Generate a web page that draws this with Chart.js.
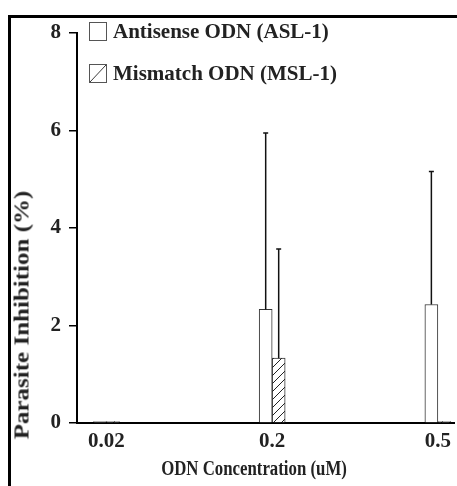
<!DOCTYPE html>
<html>
<head>
<meta charset="utf-8">
<script src="https://cdn.jsdelivr.net/npm/chart.js@4.4.1/dist/chart.umd.min.js"></script>
<style>
  html, body { margin:0; padding:0; background:#fff; overflow:hidden; }
  #wrap { position:relative; width:457px; height:486px; overflow:hidden;
          font-family:'Liberation Serif','Times New Roman',serif; font-weight:bold; color:#222; }
  #frame { position:absolute; left:8px; top:15px; width:500px; height:520px;
           border-left:3px solid #000; border-top:3px solid #000; }
  canvas { position:absolute; left:0; top:0; }
  .leg { position:absolute; left:89px; font-size:21px; line-height:20px; display:flex; align-items:center; white-space:nowrap; }
  .sw { width:16px; height:17px; border:1px solid #555; margin-right:6px; background:#fff; box-sizing:content-box; }
  .sw.hatch { background:linear-gradient(to bottom right, transparent calc(50% - 0.7px), #333 50%, transparent calc(50% + 0.7px)); }
  #ytitle { position:absolute; left:22px; top:315px; font-size:20px; white-space:nowrap;
            transform:translate(-50%,-50%) rotate(-90deg) scaleX(1.25); }
  #xtitle { position:absolute; left:254px; top:468px; font-size:20px; white-space:nowrap;
            transform:translate(-50%,-50%) scaleX(0.84); }
</style>
</head>
<body>
<div id="wrap">
  <div id="frame"></div>
  <canvas id="c" width="457" height="486"></canvas>
  <div class="leg" style="top:21px"><div class="sw"></div>Antisense ODN (ASL-1)</div>
  <div class="leg" style="top:63px"><div class="sw hatch"></div>Mismatch ODN (MSL-1)</div>
  <div id="ytitle">Parasite Inhibition (%)</div>
  <div id="xtitle">ODN Concentration (uM)</div>
</div>
<script>
// values
const categories = ['0.02', '0.2', '0.5'];
const antisense = [0.03, 2.33, 2.43];
const antisenseErr = [0, 3.62, 2.73];
const mismatch = [0.03, 1.33, 0.03];
const mismatchErr = [0, 2.24, 0];
const yTicks = [0, 2, 4, 6, 8];

const tickFont = { family: "'Liberation Serif','Times New Roman',serif", size: 21, weight: 'bold' };

function hatchPattern() {
  const c = document.createElement('canvas');
  c.width = 8; c.height = 8;
  const g = c.getContext('2d');
  g.fillStyle = '#fff'; g.fillRect(0, 0, 8, 8);
  g.strokeStyle = '#222'; g.lineWidth = 1;
  g.beginPath();
  g.moveTo(0, 8); g.lineTo(8, 0);
  g.moveTo(-2, 2); g.lineTo(2, -2);
  g.moveTo(6, 10); g.lineTo(10, 6);
  g.stroke();
  return g.createPattern(c, 'repeat');
}

// upper error bars only, with a small cap
const errorBars = {
  id: 'errorBars',
  afterDatasetsDraw(chart) {
    const { ctx, scales: { y } } = chart;
    chart.data.datasets.forEach((ds, i) => {
      chart.getDatasetMeta(i).data.forEach((bar, j) => {
        const e = ds.errors[j];
        if (!e) return;
        const top = y.getPixelForValue(ds.data[j].y + e);
        ctx.save();
        ctx.strokeStyle = '#111';
        ctx.lineWidth = 1.5;
        ctx.beginPath();
        ctx.moveTo(bar.x, bar.y); ctx.lineTo(bar.x, top);
        ctx.moveTo(bar.x - 2.5, top); ctx.lineTo(bar.x + 2.5, top);
        ctx.stroke();
        ctx.restore();
      });
    });
  }
};

new Chart(document.getElementById('c'), {
  type: 'bar',
  data: {
    datasets: [
      { label: 'Antisense ODN (ASL-1)', data: antisense.map((v, i) => ({ x: i, y: v })), errors: antisenseErr,
        backgroundColor: '#fff', borderColor: '#333', borderWidth: 1, barThickness: 13 },
      { label: 'Mismatch ODN (MSL-1)', data: mismatch.map((v, i) => ({ x: i, y: v })), errors: mismatchErr,
        backgroundColor: hatchPattern(), borderColor: '#333', borderWidth: 1, barThickness: 13 }
    ]
  },
  options: {
    responsive: false,
    animation: false,
    layout: { padding: { left: 0, top: 33, right: 0, bottom: 0 } },
    plugins: { legend: { display: false }, tooltip: { enabled: false } },
    scales: {
      x: {
        type: 'linear', offset: false, min: -0.178, max: 2.1,
        afterBuildTicks: s => { s.ticks = categories.map((c, i) => ({ value: i })); },
        afterFit: s => { s.height = 63; },
        ticks: { callback: v => categories[v], font: tickFont, color: '#222', padding: 6, maxRotation: 0 },
        grid: { display: false, drawTicks: false },
        border: { color: '#000', width: 2 }
      },
      y: {
        min: 0, max: 8,
        afterBuildTicks: s => { s.ticks = yTicks.map(v => ({ value: v })); },
        afterFit: s => { s.width = 77; },
        ticks: { font: tickFont, color: '#222', padding: 8 },
        grid: { drawOnChartArea: false, tickLength: 8, color: '#000', lineWidth: 1.5 },
        border: { color: '#000', width: 2 }
      }
    }
  },
  plugins: [errorBars]
});
</script>
</body>
</html>
